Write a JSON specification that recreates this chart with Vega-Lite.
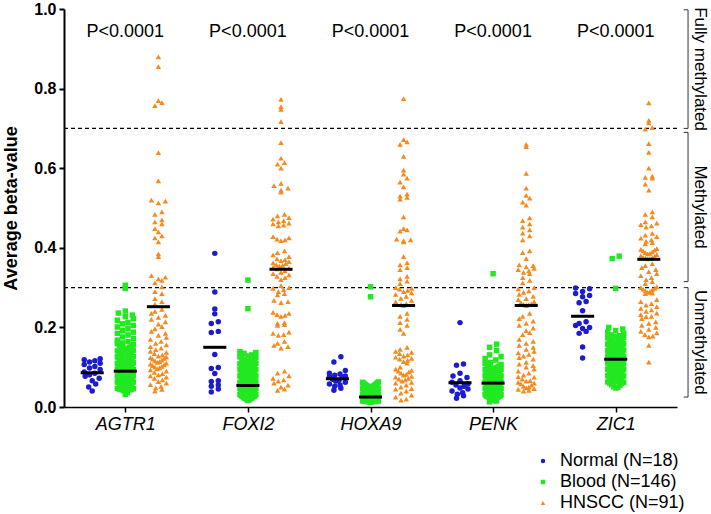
{
  "$schema": "https://vega.github.io/schema/vega-lite/v6.json",
  "width": 613,
  "height": 398,
  "autosize": {"type": "none"},
  "padding": {"left": 64, "top": 9, "right": 34, "bottom": 107},
  "background": "white",
  "config": {"font": "Liberation Sans", "view": {"stroke": null}},
  "layer": [
    {
      "data": {"values": [{"y": 0.3}, {"y": 0.7}]},
      "mark": {"type": "rule", "strokeDash": [4, 3], "strokeWidth": 1.3, "color": "black"},
      "encoding": {"y": {"field": "y", "type": "quantitative"}}
    },
    {
      "data": {
        "values": "g,s,v\nAGTR1,N,0.121\nAGTR1,N,0.119\nAGTR1,N,0.116\nAGTR1,N,0.113\nAGTR1,N,0.11\nAGTR1,N,0.107\nAGTR1,N,0.102\nAGTR1,N,0.098\nAGTR1,N,0.094\nAGTR1,N,0.088\nAGTR1,N,0.085\nAGTR1,N,0.081\nAGTR1,N,0.077\nAGTR1,N,0.072\nAGTR1,N,0.066\nAGTR1,N,0.058\nAGTR1,N,0.05\nAGTR1,N,0.04\nAGTR1,B,0.032\nAGTR1,B,0.036\nAGTR1,B,0.041\nAGTR1,B,0.043\nAGTR1,B,0.044\nAGTR1,B,0.045\nAGTR1,B,0.046\nAGTR1,B,0.047\nAGTR1,B,0.048\nAGTR1,B,0.049\nAGTR1,B,0.044\nAGTR1,B,0.05\nAGTR1,B,0.051\nAGTR1,B,0.052\nAGTR1,B,0.052\nAGTR1,B,0.053\nAGTR1,B,0.054\nAGTR1,B,0.055\nAGTR1,B,0.055\nAGTR1,B,0.056\nAGTR1,B,0.057\nAGTR1,B,0.058\nAGTR1,B,0.058\nAGTR1,B,0.059\nAGTR1,B,0.06\nAGTR1,B,0.061\nAGTR1,B,0.061\nAGTR1,B,0.062\nAGTR1,B,0.063\nAGTR1,B,0.063\nAGTR1,B,0.064\nAGTR1,B,0.065\nAGTR1,B,0.065\nAGTR1,B,0.066\nAGTR1,B,0.066\nAGTR1,B,0.067\nAGTR1,B,0.067\nAGTR1,B,0.068\nAGTR1,B,0.069\nAGTR1,B,0.07\nAGTR1,B,0.071\nAGTR1,B,0.071\nAGTR1,B,0.072\nAGTR1,B,0.073\nAGTR1,B,0.073\nAGTR1,B,0.074\nAGTR1,B,0.074\nAGTR1,B,0.075\nAGTR1,B,0.075\nAGTR1,B,0.076\nAGTR1,B,0.077\nAGTR1,B,0.077\nAGTR1,B,0.078\nAGTR1,B,0.079\nAGTR1,B,0.08\nAGTR1,B,0.081\nAGTR1,B,0.082\nAGTR1,B,0.082\nAGTR1,B,0.083\nAGTR1,B,0.084\nAGTR1,B,0.084\nAGTR1,B,0.085\nAGTR1,B,0.086\nAGTR1,B,0.086\nAGTR1,B,0.087\nAGTR1,B,0.088\nAGTR1,B,0.089\nAGTR1,B,0.09\nAGTR1,B,0.091\nAGTR1,B,0.091\nAGTR1,B,0.092\nAGTR1,B,0.093\nAGTR1,B,0.094\nAGTR1,B,0.094\nAGTR1,B,0.095\nAGTR1,B,0.096\nAGTR1,B,0.097\nAGTR1,B,0.098\nAGTR1,B,0.099\nAGTR1,B,0.1\nAGTR1,B,0.101\nAGTR1,B,0.102\nAGTR1,B,0.103\nAGTR1,B,0.104\nAGTR1,B,0.105\nAGTR1,B,0.106\nAGTR1,B,0.107\nAGTR1,B,0.108\nAGTR1,B,0.109\nAGTR1,B,0.11\nAGTR1,B,0.111\nAGTR1,B,0.112\nAGTR1,B,0.113\nAGTR1,B,0.114\nAGTR1,B,0.115\nAGTR1,B,0.116\nAGTR1,B,0.117\nAGTR1,B,0.119\nAGTR1,B,0.12\nAGTR1,B,0.121\nAGTR1,B,0.122\nAGTR1,B,0.124\nAGTR1,B,0.125\nAGTR1,B,0.126\nAGTR1,B,0.127\nAGTR1,B,0.129\nAGTR1,B,0.13\nAGTR1,B,0.132\nAGTR1,B,0.134\nAGTR1,B,0.135\nAGTR1,B,0.136\nAGTR1,B,0.138\nAGTR1,B,0.139\nAGTR1,B,0.141\nAGTR1,B,0.143\nAGTR1,B,0.145\nAGTR1,B,0.146\nAGTR1,B,0.148\nAGTR1,B,0.149\nAGTR1,B,0.151\nAGTR1,B,0.153\nAGTR1,B,0.155\nAGTR1,B,0.157\nAGTR1,B,0.159\nAGTR1,B,0.161\nAGTR1,B,0.164\nAGTR1,B,0.168\nAGTR1,B,0.172\nAGTR1,B,0.176\nAGTR1,B,0.181\nAGTR1,B,0.185\nAGTR1,B,0.188\nAGTR1,B,0.192\nAGTR1,B,0.197\nAGTR1,B,0.201\nAGTR1,B,0.205\nAGTR1,B,0.209\nAGTR1,B,0.212\nAGTR1,B,0.218\nAGTR1,B,0.222\nAGTR1,B,0.227\nAGTR1,B,0.231\nAGTR1,B,0.236\nAGTR1,B,0.241\nAGTR1,B,0.298\nAGTR1,B,0.306\nAGTR1,H,0.88\nAGTR1,H,0.855\nAGTR1,H,0.77\nAGTR1,H,0.765\nAGTR1,H,0.757\nAGTR1,H,0.639\nAGTR1,H,0.568\nAGTR1,H,0.52\nAGTR1,H,0.517\nAGTR1,H,0.513\nAGTR1,H,0.49\nAGTR1,H,0.484\nAGTR1,H,0.47\nAGTR1,H,0.465\nAGTR1,H,0.46\nAGTR1,H,0.448\nAGTR1,H,0.44\nAGTR1,H,0.43\nAGTR1,H,0.425\nAGTR1,H,0.415\nAGTR1,H,0.385\nAGTR1,H,0.378\nAGTR1,H,0.33\nAGTR1,H,0.326\nAGTR1,H,0.322\nAGTR1,H,0.318\nAGTR1,H,0.312\nAGTR1,H,0.302\nAGTR1,H,0.29\nAGTR1,H,0.285\nAGTR1,H,0.272\nAGTR1,H,0.265\nAGTR1,H,0.258\nAGTR1,H,0.245\nAGTR1,H,0.24\nAGTR1,H,0.235\nAGTR1,H,0.23\nAGTR1,H,0.225\nAGTR1,H,0.22\nAGTR1,H,0.214\nAGTR1,H,0.208\nAGTR1,H,0.202\nAGTR1,H,0.196\nAGTR1,H,0.19\nAGTR1,H,0.185\nAGTR1,H,0.18\nAGTR1,H,0.175\nAGTR1,H,0.17\nAGTR1,H,0.165\nAGTR1,H,0.16\nAGTR1,H,0.156\nAGTR1,H,0.152\nAGTR1,H,0.148\nAGTR1,H,0.144\nAGTR1,H,0.14\nAGTR1,H,0.137\nAGTR1,H,0.134\nAGTR1,H,0.131\nAGTR1,H,0.128\nAGTR1,H,0.126\nAGTR1,H,0.124\nAGTR1,H,0.122\nAGTR1,H,0.12\nAGTR1,H,0.118\nAGTR1,H,0.116\nAGTR1,H,0.114\nAGTR1,H,0.112\nAGTR1,H,0.11\nAGTR1,H,0.108\nAGTR1,H,0.106\nAGTR1,H,0.104\nAGTR1,H,0.102\nAGTR1,H,0.1\nAGTR1,H,0.098\nAGTR1,H,0.096\nAGTR1,H,0.093\nAGTR1,H,0.09\nAGTR1,H,0.087\nAGTR1,H,0.084\nAGTR1,H,0.081\nAGTR1,H,0.078\nAGTR1,H,0.075\nAGTR1,H,0.072\nAGTR1,H,0.068\nAGTR1,H,0.064\nAGTR1,H,0.06\nAGTR1,H,0.056\nAGTR1,H,0.052\nAGTR1,H,0.048\nAGTR1,H,0.044\nAGTR1,H,0.04\nFOXI2,N,0.386\nFOXI2,N,0.289\nFOXI2,N,0.246\nFOXI2,N,0.234\nFOXI2,N,0.214\nFOXI2,N,0.21\nFOXI2,N,0.19\nFOXI2,N,0.187\nFOXI2,N,0.132\nFOXI2,N,0.099\nFOXI2,N,0.097\nFOXI2,N,0.084\nFOXI2,N,0.066\nFOXI2,N,0.064\nFOXI2,N,0.055\nFOXI2,N,0.052\nFOXI2,N,0.045\nFOXI2,N,0.038\nFOXI2,B,0.319\nFOXI2,B,0.247\nFOXI2,B,0.017\nFOXI2,B,0.018\nFOXI2,B,0.019\nFOXI2,B,0.02\nFOXI2,B,0.021\nFOXI2,B,0.022\nFOXI2,B,0.022\nFOXI2,B,0.023\nFOXI2,B,0.024\nFOXI2,B,0.025\nFOXI2,B,0.026\nFOXI2,B,0.027\nFOXI2,B,0.028\nFOXI2,B,0.029\nFOXI2,B,0.03\nFOXI2,B,0.031\nFOXI2,B,0.031\nFOXI2,B,0.032\nFOXI2,B,0.033\nFOXI2,B,0.033\nFOXI2,B,0.034\nFOXI2,B,0.034\nFOXI2,B,0.035\nFOXI2,B,0.035\nFOXI2,B,0.036\nFOXI2,B,0.036\nFOXI2,B,0.037\nFOXI2,B,0.037\nFOXI2,B,0.038\nFOXI2,B,0.038\nFOXI2,B,0.039\nFOXI2,B,0.039\nFOXI2,B,0.032\nFOXI2,B,0.035\nFOXI2,B,0.04\nFOXI2,B,0.041\nFOXI2,B,0.041\nFOXI2,B,0.042\nFOXI2,B,0.043\nFOXI2,B,0.043\nFOXI2,B,0.044\nFOXI2,B,0.044\nFOXI2,B,0.045\nFOXI2,B,0.045\nFOXI2,B,0.046\nFOXI2,B,0.046\nFOXI2,B,0.047\nFOXI2,B,0.047\nFOXI2,B,0.048\nFOXI2,B,0.048\nFOXI2,B,0.049\nFOXI2,B,0.049\nFOXI2,B,0.042\nFOXI2,B,0.045\nFOXI2,B,0.05\nFOXI2,B,0.051\nFOXI2,B,0.051\nFOXI2,B,0.052\nFOXI2,B,0.053\nFOXI2,B,0.053\nFOXI2,B,0.054\nFOXI2,B,0.054\nFOXI2,B,0.055\nFOXI2,B,0.055\nFOXI2,B,0.056\nFOXI2,B,0.056\nFOXI2,B,0.057\nFOXI2,B,0.057\nFOXI2,B,0.058\nFOXI2,B,0.058\nFOXI2,B,0.059\nFOXI2,B,0.059\nFOXI2,B,0.052\nFOXI2,B,0.055\nFOXI2,B,0.06\nFOXI2,B,0.061\nFOXI2,B,0.062\nFOXI2,B,0.062\nFOXI2,B,0.063\nFOXI2,B,0.064\nFOXI2,B,0.064\nFOXI2,B,0.065\nFOXI2,B,0.066\nFOXI2,B,0.066\nFOXI2,B,0.067\nFOXI2,B,0.068\nFOXI2,B,0.068\nFOXI2,B,0.069\nFOXI2,B,0.061\nFOXI2,B,0.065\nFOXI2,B,0.07\nFOXI2,B,0.071\nFOXI2,B,0.072\nFOXI2,B,0.073\nFOXI2,B,0.073\nFOXI2,B,0.074\nFOXI2,B,0.075\nFOXI2,B,0.076\nFOXI2,B,0.077\nFOXI2,B,0.077\nFOXI2,B,0.078\nFOXI2,B,0.079\nFOXI2,B,0.075\nFOXI2,B,0.08\nFOXI2,B,0.081\nFOXI2,B,0.082\nFOXI2,B,0.083\nFOXI2,B,0.084\nFOXI2,B,0.085\nFOXI2,B,0.086\nFOXI2,B,0.087\nFOXI2,B,0.088\nFOXI2,B,0.089\nFOXI2,B,0.09\nFOXI2,B,0.091\nFOXI2,B,0.092\nFOXI2,B,0.094\nFOXI2,B,0.095\nFOXI2,B,0.096\nFOXI2,B,0.097\nFOXI2,B,0.098\nFOXI2,B,0.099\nFOXI2,B,0.1\nFOXI2,B,0.101\nFOXI2,B,0.103\nFOXI2,B,0.104\nFOXI2,B,0.106\nFOXI2,B,0.107\nFOXI2,B,0.109\nFOXI2,B,0.11\nFOXI2,B,0.112\nFOXI2,B,0.114\nFOXI2,B,0.115\nFOXI2,B,0.117\nFOXI2,B,0.119\nFOXI2,B,0.12\nFOXI2,B,0.122\nFOXI2,B,0.124\nFOXI2,B,0.126\nFOXI2,B,0.128\nFOXI2,B,0.131\nFOXI2,B,0.135\nFOXI2,B,0.137\nFOXI2,B,0.139\nFOXI2,H,0.773\nFOXI2,H,0.755\nFOXI2,H,0.748\nFOXI2,H,0.717\nFOXI2,H,0.664\nFOXI2,H,0.625\nFOXI2,H,0.614\nFOXI2,H,0.61\nFOXI2,H,0.6\nFOXI2,H,0.562\nFOXI2,H,0.556\nFOXI2,H,0.55\nFOXI2,H,0.545\nFOXI2,H,0.54\nFOXI2,H,0.484\nFOXI2,H,0.48\nFOXI2,H,0.476\nFOXI2,H,0.472\nFOXI2,H,0.468\nFOXI2,H,0.465\nFOXI2,H,0.462\nFOXI2,H,0.46\nFOXI2,H,0.457\nFOXI2,H,0.455\nFOXI2,H,0.428\nFOXI2,H,0.425\nFOXI2,H,0.422\nFOXI2,H,0.42\nFOXI2,H,0.418\nFOXI2,H,0.392\nFOXI2,H,0.388\nFOXI2,H,0.382\nFOXI2,H,0.378\nFOXI2,H,0.372\nFOXI2,H,0.37\nFOXI2,H,0.368\nFOXI2,H,0.365\nFOXI2,H,0.362\nFOXI2,H,0.36\nFOXI2,H,0.358\nFOXI2,H,0.356\nFOXI2,H,0.354\nFOXI2,H,0.351\nFOXI2,H,0.349\nFOXI2,H,0.347\nFOXI2,H,0.342\nFOXI2,H,0.338\nFOXI2,H,0.335\nFOXI2,H,0.332\nFOXI2,H,0.328\nFOXI2,H,0.325\nFOXI2,H,0.32\nFOXI2,H,0.305\nFOXI2,H,0.3\nFOXI2,H,0.298\nFOXI2,H,0.295\nFOXI2,H,0.29\nFOXI2,H,0.285\nFOXI2,H,0.282\nFOXI2,H,0.268\nFOXI2,H,0.265\nFOXI2,H,0.262\nFOXI2,H,0.238\nFOXI2,H,0.235\nFOXI2,H,0.232\nFOXI2,H,0.23\nFOXI2,H,0.228\nFOXI2,H,0.212\nFOXI2,H,0.21\nFOXI2,H,0.207\nFOXI2,H,0.205\nFOXI2,H,0.188\nFOXI2,H,0.185\nFOXI2,H,0.182\nFOXI2,H,0.18\nFOXI2,H,0.165\nFOXI2,H,0.16\nFOXI2,H,0.155\nFOXI2,H,0.152\nFOXI2,H,0.148\nFOXI2,H,0.09\nFOXI2,H,0.085\nFOXI2,H,0.078\nFOXI2,H,0.072\nFOXI2,H,0.068\nFOXI2,H,0.065\nFOXI2,H,0.06\nFOXI2,H,0.055\nFOXI2,H,0.05\nFOXI2,H,0.045\nFOXI2,H,0.042\nHOXA9,N,0.126\nHOXA9,N,0.113\nHOXA9,N,0.092\nHOXA9,N,0.085\nHOXA9,N,0.083\nHOXA9,N,0.08\nHOXA9,N,0.078\nHOXA9,N,0.076\nHOXA9,N,0.074\nHOXA9,N,0.07\nHOXA9,N,0.067\nHOXA9,N,0.065\nHOXA9,N,0.062\nHOXA9,N,0.058\nHOXA9,N,0.055\nHOXA9,N,0.052\nHOXA9,N,0.047\nHOXA9,N,0.042\nHOXA9,B,0.302\nHOXA9,B,0.277\nHOXA9,B,0.012\nHOXA9,B,0.013\nHOXA9,B,0.013\nHOXA9,B,0.014\nHOXA9,B,0.014\nHOXA9,B,0.015\nHOXA9,B,0.015\nHOXA9,B,0.015\nHOXA9,B,0.016\nHOXA9,B,0.016\nHOXA9,B,0.016\nHOXA9,B,0.017\nHOXA9,B,0.017\nHOXA9,B,0.017\nHOXA9,B,0.018\nHOXA9,B,0.018\nHOXA9,B,0.018\nHOXA9,B,0.019\nHOXA9,B,0.019\nHOXA9,B,0.019\nHOXA9,B,0.014\nHOXA9,B,0.016\nHOXA9,B,0.017\nHOXA9,B,0.018\nHOXA9,B,0.019\nHOXA9,B,0.02\nHOXA9,B,0.021\nHOXA9,B,0.022\nHOXA9,B,0.023\nHOXA9,B,0.024\nHOXA9,B,0.025\nHOXA9,B,0.026\nHOXA9,B,0.027\nHOXA9,B,0.028\nHOXA9,B,0.029\nHOXA9,B,0.02\nHOXA9,B,0.021\nHOXA9,B,0.022\nHOXA9,B,0.023\nHOXA9,B,0.024\nHOXA9,B,0.025\nHOXA9,B,0.026\nHOXA9,B,0.027\nHOXA9,B,0.028\nHOXA9,B,0.029\nHOXA9,B,0.02\nHOXA9,B,0.021\nHOXA9,B,0.022\nHOXA9,B,0.023\nHOXA9,B,0.024\nHOXA9,B,0.025\nHOXA9,B,0.026\nHOXA9,B,0.027\nHOXA9,B,0.028\nHOXA9,B,0.029\nHOXA9,B,0.02\nHOXA9,B,0.021\nHOXA9,B,0.022\nHOXA9,B,0.023\nHOXA9,B,0.024\nHOXA9,B,0.025\nHOXA9,B,0.026\nHOXA9,B,0.027\nHOXA9,B,0.028\nHOXA9,B,0.029\nHOXA9,B,0.02\nHOXA9,B,0.021\nHOXA9,B,0.022\nHOXA9,B,0.023\nHOXA9,B,0.024\nHOXA9,B,0.025\nHOXA9,B,0.026\nHOXA9,B,0.027\nHOXA9,B,0.028\nHOXA9,B,0.029\nHOXA9,B,0.03\nHOXA9,B,0.031\nHOXA9,B,0.032\nHOXA9,B,0.033\nHOXA9,B,0.034\nHOXA9,B,0.035\nHOXA9,B,0.036\nHOXA9,B,0.037\nHOXA9,B,0.038\nHOXA9,B,0.039\nHOXA9,B,0.03\nHOXA9,B,0.031\nHOXA9,B,0.032\nHOXA9,B,0.033\nHOXA9,B,0.034\nHOXA9,B,0.035\nHOXA9,B,0.036\nHOXA9,B,0.037\nHOXA9,B,0.038\nHOXA9,B,0.039\nHOXA9,B,0.03\nHOXA9,B,0.031\nHOXA9,B,0.032\nHOXA9,B,0.033\nHOXA9,B,0.034\nHOXA9,B,0.035\nHOXA9,B,0.036\nHOXA9,B,0.037\nHOXA9,B,0.038\nHOXA9,B,0.039\nHOXA9,B,0.031\nHOXA9,B,0.034\nHOXA9,B,0.037\nHOXA9,B,0.04\nHOXA9,B,0.041\nHOXA9,B,0.042\nHOXA9,B,0.043\nHOXA9,B,0.044\nHOXA9,B,0.045\nHOXA9,B,0.046\nHOXA9,B,0.047\nHOXA9,B,0.048\nHOXA9,B,0.049\nHOXA9,B,0.04\nHOXA9,B,0.041\nHOXA9,B,0.042\nHOXA9,B,0.043\nHOXA9,B,0.044\nHOXA9,B,0.045\nHOXA9,B,0.046\nHOXA9,B,0.047\nHOXA9,B,0.048\nHOXA9,B,0.049\nHOXA9,B,0.05\nHOXA9,B,0.051\nHOXA9,B,0.052\nHOXA9,B,0.053\nHOXA9,B,0.054\nHOXA9,B,0.055\nHOXA9,B,0.056\nHOXA9,B,0.057\nHOXA9,B,0.058\nHOXA9,B,0.059\nHOXA9,B,0.052\nHOXA9,B,0.055\nHOXA9,B,0.06\nHOXA9,B,0.061\nHOXA9,B,0.062\nHOXA9,B,0.063\nHOXA9,H,0.775\nHOXA9,H,0.672\nHOXA9,H,0.666\nHOXA9,H,0.66\nHOXA9,H,0.63\nHOXA9,H,0.595\nHOXA9,H,0.585\nHOXA9,H,0.575\nHOXA9,H,0.565\nHOXA9,H,0.553\nHOXA9,H,0.535\nHOXA9,H,0.53\nHOXA9,H,0.527\nHOXA9,H,0.522\nHOXA9,H,0.478\nHOXA9,H,0.448\nHOXA9,H,0.445\nHOXA9,H,0.442\nHOXA9,H,0.422\nHOXA9,H,0.42\nHOXA9,H,0.418\nHOXA9,H,0.415\nHOXA9,H,0.378\nHOXA9,H,0.362\nHOXA9,H,0.357\nHOXA9,H,0.35\nHOXA9,H,0.345\nHOXA9,H,0.328\nHOXA9,H,0.322\nHOXA9,H,0.316\nHOXA9,H,0.31\nHOXA9,H,0.3\nHOXA9,H,0.298\nHOXA9,H,0.296\nHOXA9,H,0.293\nHOXA9,H,0.29\nHOXA9,H,0.287\nHOXA9,H,0.283\nHOXA9,H,0.278\nHOXA9,H,0.273\nHOXA9,H,0.268\nHOXA9,H,0.264\nHOXA9,H,0.26\nHOXA9,H,0.257\nHOXA9,H,0.255\nHOXA9,H,0.235\nHOXA9,H,0.228\nHOXA9,H,0.22\nHOXA9,H,0.212\nHOXA9,H,0.205\nHOXA9,H,0.195\nHOXA9,H,0.185\nHOXA9,H,0.15\nHOXA9,H,0.145\nHOXA9,H,0.14\nHOXA9,H,0.137\nHOXA9,H,0.134\nHOXA9,H,0.131\nHOXA9,H,0.128\nHOXA9,H,0.125\nHOXA9,H,0.122\nHOXA9,H,0.12\nHOXA9,H,0.117\nHOXA9,H,0.114\nHOXA9,H,0.11\nHOXA9,H,0.1\nHOXA9,H,0.095\nHOXA9,H,0.092\nHOXA9,H,0.09\nHOXA9,H,0.088\nHOXA9,H,0.085\nHOXA9,H,0.082\nHOXA9,H,0.08\nHOXA9,H,0.077\nHOXA9,H,0.075\nHOXA9,H,0.072\nHOXA9,H,0.07\nHOXA9,H,0.068\nHOXA9,H,0.065\nHOXA9,H,0.062\nHOXA9,H,0.06\nHOXA9,H,0.055\nHOXA9,H,0.05\nHOXA9,H,0.046\nHOXA9,H,0.04\nHOXA9,H,0.035\nHOXA9,H,0.03\nHOXA9,H,0.025\nHOXA9,H,0.02\nHOXA9,H,0.017\nHOXA9,H,0.045\nPENK,N,0.212\nPENK,N,0.108\nPENK,N,0.105\nPENK,N,0.085\nPENK,N,0.078\nPENK,N,0.074\nPENK,N,0.066\nPENK,N,0.062\nPENK,N,0.058\nPENK,N,0.055\nPENK,N,0.052\nPENK,N,0.048\nPENK,N,0.045\nPENK,N,0.04\nPENK,N,0.036\nPENK,N,0.032\nPENK,N,0.028\nPENK,N,0.022\nPENK,B,0.335\nPENK,B,0.013\nPENK,B,0.015\nPENK,B,0.016\nPENK,B,0.017\nPENK,B,0.018\nPENK,B,0.019\nPENK,B,0.02\nPENK,B,0.021\nPENK,B,0.022\nPENK,B,0.023\nPENK,B,0.024\nPENK,B,0.025\nPENK,B,0.026\nPENK,B,0.027\nPENK,B,0.028\nPENK,B,0.029\nPENK,B,0.022\nPENK,B,0.024\nPENK,B,0.026\nPENK,B,0.028\nPENK,B,0.03\nPENK,B,0.031\nPENK,B,0.032\nPENK,B,0.033\nPENK,B,0.034\nPENK,B,0.035\nPENK,B,0.036\nPENK,B,0.037\nPENK,B,0.038\nPENK,B,0.039\nPENK,B,0.031\nPENK,B,0.032\nPENK,B,0.033\nPENK,B,0.034\nPENK,B,0.035\nPENK,B,0.036\nPENK,B,0.037\nPENK,B,0.038\nPENK,B,0.04\nPENK,B,0.041\nPENK,B,0.042\nPENK,B,0.043\nPENK,B,0.044\nPENK,B,0.045\nPENK,B,0.046\nPENK,B,0.047\nPENK,B,0.048\nPENK,B,0.049\nPENK,B,0.04\nPENK,B,0.041\nPENK,B,0.042\nPENK,B,0.043\nPENK,B,0.044\nPENK,B,0.045\nPENK,B,0.046\nPENK,B,0.047\nPENK,B,0.048\nPENK,B,0.049\nPENK,B,0.05\nPENK,B,0.051\nPENK,B,0.052\nPENK,B,0.053\nPENK,B,0.054\nPENK,B,0.055\nPENK,B,0.056\nPENK,B,0.057\nPENK,B,0.058\nPENK,B,0.059\nPENK,B,0.05\nPENK,B,0.051\nPENK,B,0.052\nPENK,B,0.053\nPENK,B,0.054\nPENK,B,0.055\nPENK,B,0.056\nPENK,B,0.057\nPENK,B,0.058\nPENK,B,0.059\nPENK,B,0.06\nPENK,B,0.061\nPENK,B,0.062\nPENK,B,0.063\nPENK,B,0.064\nPENK,B,0.065\nPENK,B,0.066\nPENK,B,0.067\nPENK,B,0.068\nPENK,B,0.069\nPENK,B,0.061\nPENK,B,0.062\nPENK,B,0.063\nPENK,B,0.064\nPENK,B,0.065\nPENK,B,0.066\nPENK,B,0.067\nPENK,B,0.068\nPENK,B,0.07\nPENK,B,0.071\nPENK,B,0.072\nPENK,B,0.073\nPENK,B,0.074\nPENK,B,0.075\nPENK,B,0.076\nPENK,B,0.077\nPENK,B,0.078\nPENK,B,0.079\nPENK,B,0.071\nPENK,B,0.073\nPENK,B,0.075\nPENK,B,0.077\nPENK,B,0.08\nPENK,B,0.081\nPENK,B,0.082\nPENK,B,0.083\nPENK,B,0.084\nPENK,B,0.085\nPENK,B,0.086\nPENK,B,0.087\nPENK,B,0.088\nPENK,B,0.089\nPENK,B,0.082\nPENK,B,0.086\nPENK,B,0.09\nPENK,B,0.091\nPENK,B,0.092\nPENK,B,0.093\nPENK,B,0.094\nPENK,B,0.095\nPENK,B,0.096\nPENK,B,0.097\nPENK,B,0.098\nPENK,B,0.1\nPENK,B,0.102\nPENK,B,0.103\nPENK,B,0.105\nPENK,B,0.107\nPENK,B,0.109\nPENK,B,0.112\nPENK,B,0.118\nPENK,B,0.122\nPENK,B,0.127\nPENK,B,0.131\nPENK,B,0.142\nPENK,B,0.15\nPENK,B,0.158\nPENK,H,0.66\nPENK,H,0.654\nPENK,H,0.587\nPENK,H,0.55\nPENK,H,0.532\nPENK,H,0.525\nPENK,H,0.515\nPENK,H,0.507\nPENK,H,0.475\nPENK,H,0.468\nPENK,H,0.46\nPENK,H,0.452\nPENK,H,0.445\nPENK,H,0.437\nPENK,H,0.43\nPENK,H,0.42\nPENK,H,0.392\nPENK,H,0.388\nPENK,H,0.373\nPENK,H,0.357\nPENK,H,0.355\nPENK,H,0.352\nPENK,H,0.348\nPENK,H,0.345\nPENK,H,0.342\nPENK,H,0.338\nPENK,H,0.335\nPENK,H,0.325\nPENK,H,0.318\nPENK,H,0.312\nPENK,H,0.3\nPENK,H,0.297\nPENK,H,0.292\nPENK,H,0.288\nPENK,H,0.283\nPENK,H,0.278\nPENK,H,0.272\nPENK,H,0.27\nPENK,H,0.265\nPENK,H,0.262\nPENK,H,0.26\nPENK,H,0.258\nPENK,H,0.257\nPENK,H,0.256\nPENK,H,0.255\nPENK,H,0.235\nPENK,H,0.228\nPENK,H,0.222\nPENK,H,0.216\nPENK,H,0.21\nPENK,H,0.205\nPENK,H,0.198\nPENK,H,0.192\nPENK,H,0.187\nPENK,H,0.182\nPENK,H,0.17\nPENK,H,0.165\nPENK,H,0.16\nPENK,H,0.155\nPENK,H,0.15\nPENK,H,0.145\nPENK,H,0.14\nPENK,H,0.136\nPENK,H,0.132\nPENK,H,0.128\nPENK,H,0.124\nPENK,H,0.12\nPENK,H,0.108\nPENK,H,0.104\nPENK,H,0.1\nPENK,H,0.095\nPENK,H,0.09\nPENK,H,0.085\nPENK,H,0.08\nPENK,H,0.076\nPENK,H,0.07\nPENK,H,0.066\nPENK,H,0.062\nPENK,H,0.058\nPENK,H,0.055\nPENK,H,0.052\nPENK,H,0.05\nPENK,H,0.048\nPENK,H,0.046\nPENK,H,0.044\nPENK,H,0.042\nPENK,H,0.04\nPENK,H,0.065\nPENK,H,0.06\nPENK,H,0.075\nPENK,H,0.112\nZIC1,N,0.299\nZIC1,N,0.297\nZIC1,N,0.29\nZIC1,N,0.285\nZIC1,N,0.28\nZIC1,N,0.277\nZIC1,N,0.265\nZIC1,N,0.262\nZIC1,N,0.242\nZIC1,N,0.214\nZIC1,N,0.21\nZIC1,N,0.205\nZIC1,N,0.2\nZIC1,N,0.197\nZIC1,N,0.19\nZIC1,N,0.185\nZIC1,N,0.151\nZIC1,N,0.123\nZIC1,B,0.379\nZIC1,B,0.373\nZIC1,B,0.298\nZIC1,B,0.048\nZIC1,B,0.049\nZIC1,B,0.051\nZIC1,B,0.054\nZIC1,B,0.056\nZIC1,B,0.059\nZIC1,B,0.06\nZIC1,B,0.062\nZIC1,B,0.063\nZIC1,B,0.065\nZIC1,B,0.066\nZIC1,B,0.068\nZIC1,B,0.069\nZIC1,B,0.07\nZIC1,B,0.071\nZIC1,B,0.072\nZIC1,B,0.074\nZIC1,B,0.075\nZIC1,B,0.076\nZIC1,B,0.077\nZIC1,B,0.078\nZIC1,B,0.079\nZIC1,B,0.08\nZIC1,B,0.081\nZIC1,B,0.082\nZIC1,B,0.083\nZIC1,B,0.084\nZIC1,B,0.085\nZIC1,B,0.086\nZIC1,B,0.087\nZIC1,B,0.088\nZIC1,B,0.089\nZIC1,B,0.085\nZIC1,B,0.09\nZIC1,B,0.091\nZIC1,B,0.092\nZIC1,B,0.093\nZIC1,B,0.094\nZIC1,B,0.095\nZIC1,B,0.096\nZIC1,B,0.097\nZIC1,B,0.098\nZIC1,B,0.099\nZIC1,B,0.092\nZIC1,B,0.095\nZIC1,B,0.098\nZIC1,B,0.1\nZIC1,B,0.101\nZIC1,B,0.102\nZIC1,B,0.103\nZIC1,B,0.104\nZIC1,B,0.105\nZIC1,B,0.106\nZIC1,B,0.107\nZIC1,B,0.108\nZIC1,B,0.109\nZIC1,B,0.101\nZIC1,B,0.103\nZIC1,B,0.105\nZIC1,B,0.107\nZIC1,B,0.109\nZIC1,B,0.11\nZIC1,B,0.111\nZIC1,B,0.112\nZIC1,B,0.113\nZIC1,B,0.114\nZIC1,B,0.115\nZIC1,B,0.116\nZIC1,B,0.117\nZIC1,B,0.118\nZIC1,B,0.119\nZIC1,B,0.111\nZIC1,B,0.113\nZIC1,B,0.115\nZIC1,B,0.117\nZIC1,B,0.119\nZIC1,B,0.12\nZIC1,B,0.121\nZIC1,B,0.122\nZIC1,B,0.123\nZIC1,B,0.124\nZIC1,B,0.125\nZIC1,B,0.126\nZIC1,B,0.127\nZIC1,B,0.128\nZIC1,B,0.129\nZIC1,B,0.121\nZIC1,B,0.124\nZIC1,B,0.126\nZIC1,B,0.128\nZIC1,B,0.13\nZIC1,B,0.131\nZIC1,B,0.132\nZIC1,B,0.133\nZIC1,B,0.134\nZIC1,B,0.135\nZIC1,B,0.136\nZIC1,B,0.137\nZIC1,B,0.138\nZIC1,B,0.139\nZIC1,B,0.132\nZIC1,B,0.135\nZIC1,B,0.138\nZIC1,B,0.14\nZIC1,B,0.141\nZIC1,B,0.142\nZIC1,B,0.143\nZIC1,B,0.144\nZIC1,B,0.145\nZIC1,B,0.146\nZIC1,B,0.147\nZIC1,B,0.148\nZIC1,B,0.149\nZIC1,B,0.145\nZIC1,B,0.15\nZIC1,B,0.151\nZIC1,B,0.152\nZIC1,B,0.153\nZIC1,B,0.155\nZIC1,B,0.156\nZIC1,B,0.157\nZIC1,B,0.158\nZIC1,B,0.159\nZIC1,B,0.16\nZIC1,B,0.161\nZIC1,B,0.162\nZIC1,B,0.164\nZIC1,B,0.165\nZIC1,B,0.166\nZIC1,B,0.168\nZIC1,B,0.169\nZIC1,B,0.17\nZIC1,B,0.172\nZIC1,B,0.174\nZIC1,B,0.175\nZIC1,B,0.177\nZIC1,B,0.179\nZIC1,B,0.181\nZIC1,B,0.185\nZIC1,B,0.188\nZIC1,B,0.192\nZIC1,B,0.196\nZIC1,B,0.2\nZIC1,H,0.764\nZIC1,H,0.72\nZIC1,H,0.714\nZIC1,H,0.702\nZIC1,H,0.698\nZIC1,H,0.662\nZIC1,H,0.64\nZIC1,H,0.6\nZIC1,H,0.58\nZIC1,H,0.577\nZIC1,H,0.575\nZIC1,H,0.56\nZIC1,H,0.545\nZIC1,H,0.49\nZIC1,H,0.484\nZIC1,H,0.478\nZIC1,H,0.465\nZIC1,H,0.462\nZIC1,H,0.458\nZIC1,H,0.455\nZIC1,H,0.452\nZIC1,H,0.436\nZIC1,H,0.432\nZIC1,H,0.428\nZIC1,H,0.424\nZIC1,H,0.42\nZIC1,H,0.416\nZIC1,H,0.413\nZIC1,H,0.41\nZIC1,H,0.398\nZIC1,H,0.396\nZIC1,H,0.394\nZIC1,H,0.392\nZIC1,H,0.39\nZIC1,H,0.388\nZIC1,H,0.386\nZIC1,H,0.385\nZIC1,H,0.383\nZIC1,H,0.38\nZIC1,H,0.378\nZIC1,H,0.376\nZIC1,H,0.375\nZIC1,H,0.374\nZIC1,H,0.373\nZIC1,H,0.372\nZIC1,H,0.36\nZIC1,H,0.355\nZIC1,H,0.35\nZIC1,H,0.345\nZIC1,H,0.34\nZIC1,H,0.335\nZIC1,H,0.33\nZIC1,H,0.325\nZIC1,H,0.32\nZIC1,H,0.302\nZIC1,H,0.3\nZIC1,H,0.298\nZIC1,H,0.296\nZIC1,H,0.294\nZIC1,H,0.292\nZIC1,H,0.29\nZIC1,H,0.288\nZIC1,H,0.286\nZIC1,H,0.285\nZIC1,H,0.26\nZIC1,H,0.256\nZIC1,H,0.252\nZIC1,H,0.248\nZIC1,H,0.244\nZIC1,H,0.24\nZIC1,H,0.236\nZIC1,H,0.232\nZIC1,H,0.228\nZIC1,H,0.227\nZIC1,H,0.214\nZIC1,H,0.21\nZIC1,H,0.205\nZIC1,H,0.2\nZIC1,H,0.195\nZIC1,H,0.19\nZIC1,H,0.186\nZIC1,H,0.182\nZIC1,H,0.178\nZIC1,H,0.176\nZIC1,H,0.155\nZIC1,H,0.113\nZIC1,H,0.27\nZIC1,H,0.265\nZIC1,H,0.315\nZIC1,H,0.31\nZIC1,H,0.222",
        "format": {"type": "csv", "parse": {"v": "number"}}
      },
      "transform": [
        {"calculate": "floor(datum.v / 0.016)", "as": "b"},
        {"window": [{"op": "row_number", "as": "r"}], "groupby": ["g", "s", "b"], "sort": [{"field": "v", "order": "ascending"}]},
        {"joinaggregate": [{"op": "count", "as": "n"}], "groupby": ["g", "s", "b"]},
        {"calculate": "indexof(['AGTR1','FOXI2','HOXA9','PENK','ZIC1'], datum.g) + (datum.s == 'N' ? -0.27 : datum.s == 'B' ? 0 : 0.27) + ((datum.r % 2 == 0 ? datum.r / 2 : -(datum.r - 1) / 2) - (datum.n % 2 == 0 ? 0.5 : 0)) * min(0.057, 0.13 / max(datum.n - 1, 1))", "as": "xx"}
      ],
      "mark": {"type": "point", "filled": true, "size": 30, "opacity": 1, "strokeWidth": 0},
      "encoding": {
        "x": {
          "field": "xx", "type": "quantitative",
          "scale": {"domain": [-0.5, 4.5], "nice": false, "zero": false},
          "axis": {"values": [0, 1, 2, 3, 4], "labelExpr": "['AGTR1','FOXI2','HOXA9','PENK','ZIC1'][datum.value]", "title": null, "grid": false, "labelFontStyle": "italic", "labelFontSize": 18, "labelColor": "black", "domainColor": "black", "domainWidth": 1.5, "tickColor": "black", "tickWidth": 1.5, "tickSize": 5, "labelPadding": 3}
        },
        "y": {
          "field": "v", "type": "quantitative",
          "scale": {"domain": [0, 1], "nice": false},
          "axis": {"values": [0, 0.2, 0.4, 0.6, 0.8, 1], "format": ".1f", "title": "Average beta-value", "grid": false, "labelFontSize": 16, "labelFontWeight": "bold", "labelColor": "black", "titleFontSize": 18, "titleFontWeight": "bold", "titleColor": "black", "domainColor": "black", "domainWidth": 2, "tickColor": "black", "tickWidth": 2, "tickSize": 5, "labelPadding": 3, "titlePadding": 13}
        },
        "color": {
          "field": "s", "type": "nominal",
          "scale": {"domain": ["N", "B", "H"], "range": ["#1b1bd2", "#22e822", "#f68a1e"]},
          "legend": {"title": null, "orient": "none", "legendX": 470, "legendY": 443, "labelFontSize": 18, "labelColor": "black", "symbolSize": 20, "rowPadding": 3, "labelOffset": 8, "symbolStrokeWidth": 0, "labelExpr": "datum.label == 'N' ? 'Normal (N=18)' : datum.label == 'B' ? 'Blood (N=146)' : 'HNSCC (N=91)'"}
        },
        "shape": {
          "field": "s", "type": "nominal",
          "scale": {"domain": ["N", "B", "H"], "range": ["circle", "square", "triangle-up"]},
          "legend": {"title": null, "orient": "none", "legendX": 470, "legendY": 443, "labelFontSize": 18, "labelColor": "black", "symbolSize": 20, "rowPadding": 3, "labelOffset": 8, "symbolStrokeWidth": 0, "labelExpr": "datum.label == 'N' ? 'Normal (N=18)' : datum.label == 'B' ? 'Blood (N=146)' : 'HNSCC (N=91)'"}
        }
      }
    },
    {
      "data": {"values": [
        {"g": "AGTR1", "s": "N", "m": 0.086}, {"g": "AGTR1", "s": "B", "m": 0.09}, {"g": "AGTR1", "s": "H", "m": 0.252},
        {"g": "FOXI2", "s": "N", "m": 0.15}, {"g": "FOXI2", "s": "B", "m": 0.054}, {"g": "FOXI2", "s": "H", "m": 0.346},
        {"g": "HOXA9", "s": "N", "m": 0.071}, {"g": "HOXA9", "s": "B", "m": 0.025}, {"g": "HOXA9", "s": "H", "m": 0.255},
        {"g": "PENK", "s": "N", "m": 0.061}, {"g": "PENK", "s": "B", "m": 0.06}, {"g": "PENK", "s": "H", "m": 0.255},
        {"g": "ZIC1", "s": "N", "m": 0.228}, {"g": "ZIC1", "s": "B", "m": 0.12}, {"g": "ZIC1", "s": "H", "m": 0.371}
      ]},
      "transform": [
        {"calculate": "indexof(['AGTR1','FOXI2','HOXA9','PENK','ZIC1'], datum.g) + (datum.s == 'N' ? -0.27 : datum.s == 'B' ? 0 : 0.27)", "as": "c"},
        {"calculate": "datum.c - 0.094", "as": "xa"},
        {"calculate": "datum.c + 0.094", "as": "xb"}
      ],
      "mark": {"type": "rule", "strokeWidth": 3, "color": "black"},
      "encoding": {
        "x": {"field": "xa", "type": "quantitative"},
        "x2": {"field": "xb"},
        "y": {"field": "m", "type": "quantitative"}
      }
    },
    {
      "data": {"values": [
        {"g": "AGTR1", "t": "P<0.0001"}, {"g": "FOXI2", "t": "P<0.0001"}, {"g": "HOXA9", "t": "P<0.0001"},
        {"g": "PENK", "t": "P<0.0001"}, {"g": "ZIC1", "t": "P<0.0001"}
      ]},
      "transform": [{"calculate": "indexof(['AGTR1','FOXI2','HOXA9','PENK','ZIC1'], datum.g)", "as": "i"}],
      "mark": {"type": "text", "fontSize": 18, "color": "black", "baseline": "middle", "align": "center"},
      "encoding": {
        "x": {"field": "i", "type": "quantitative"},
        "y": {"datum": 0.942, "type": "quantitative"},
        "text": {"field": "t"}
      }
    },
    {
      "data": {"values": [
        {"lab": "Fully methylated", "lo": 0.7, "hi": 0.998},
        {"lab": "Methylated", "lo": 0.315, "hi": 0.69},
        {"lab": "Unmethylated", "lo": 0.025, "hi": 0.3}
      ]},
      "transform": [{"calculate": "(datum.lo + datum.hi) / 2", "as": "mid"}],
      "layer": [
        {
          "mark": {"type": "rule", "color": "#333333", "strokeWidth": 1},
          "encoding": {"x": {"datum": 4.59, "type": "quantitative"}, "y": {"field": "lo", "type": "quantitative"}, "y2": {"field": "hi"}}
        },
        {
          "mark": {"type": "rule", "color": "#333333", "strokeWidth": 1},
          "encoding": {"x": {"datum": 4.555, "type": "quantitative"}, "x2": {"datum": 4.59}, "y": {"field": "lo", "type": "quantitative"}}
        },
        {
          "mark": {"type": "rule", "color": "#333333", "strokeWidth": 1},
          "encoding": {"x": {"datum": 4.555, "type": "quantitative"}, "x2": {"datum": 4.59}, "y": {"field": "hi", "type": "quantitative"}}
        },
        {
          "mark": {"type": "text", "angle": 90, "fontSize": 17, "color": "black", "align": "center", "baseline": "middle"},
          "encoding": {"x": {"datum": 4.69, "type": "quantitative"}, "y": {"field": "mid", "type": "quantitative"}, "text": {"field": "lab"}}
        }
      ]
    }
  ]
}
